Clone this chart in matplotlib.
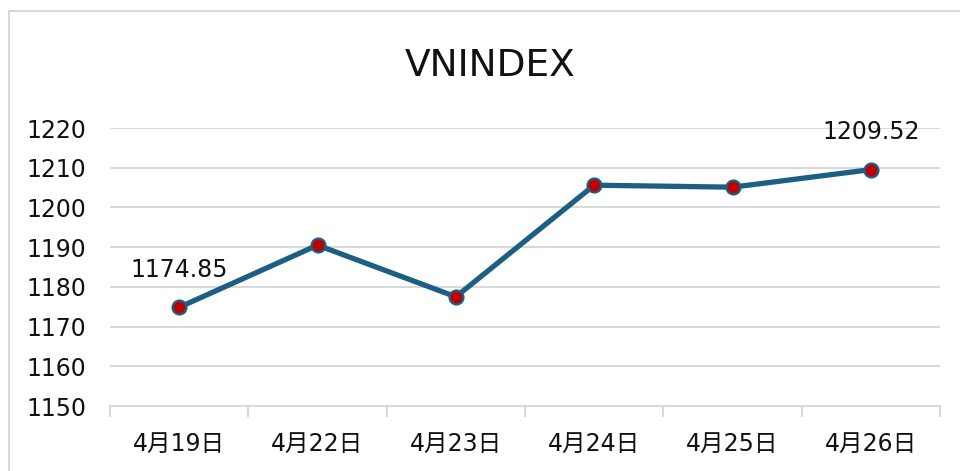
import matplotlib
matplotlib.use("Agg")
import matplotlib.pyplot as plt
from matplotlib.patches import Rectangle

categories = ["4月19日", "4月22日", "4月23日", "4月24日", "4月25日", "4月26日"]
values = [1174.85, 1190.5, 1177.5, 1205.6, 1205.1, 1209.52]
title = "VNINDEX"
yticks = [1150, 1160, 1170, 1180, 1190, 1200, 1210, 1220]

plt.rcParams['font.family'] = ['DejaVu Sans', 'Noto Sans CJK JP']

W, H = 960, 471
fig = plt.figure(figsize=(W/100, H/100), dpi=100)
fig.patches.append(Rectangle((9/W, -0.1), 1.2, 1 - 11/H + 0.1, transform=fig.transFigure,
                             fill=False, edgecolor="#D9D9D9", linewidth=1.5))

ax = fig.add_axes([110/W, 1 - 406/H, 830/W, (406-128)/H])
x = list(range(len(categories)))
line_color = "#1B6083"
ax.plot(x, values, color=line_color, linewidth=3.8, solid_capstyle="round",
        marker="o", markersize=10, markerfacecolor="#C00000",
        markeredgecolor=line_color, markeredgewidth=1.6, zorder=3)

ax.set_xlim(-0.5, len(categories) - 0.5)
ax.set_ylim(1150, 1220)
ax.set_yticks(yticks)
ax.set_yticklabels([str(t) for t in yticks])
ax.set_xticks(x)
ax.set_xticklabels(categories)
ax.set_xticks([i - 0.5 for i in range(len(categories) + 1)], minor=True)

ax.grid(axis="y", color="#D9D9D9", linewidth=1.5)
ax.set_axisbelow(True)
for s in ["top", "right", "left"]:
    ax.spines[s].set_visible(False)
ax.spines["bottom"].set_color("#D9D9D9")
ax.spines["bottom"].set_linewidth(1.5)

ax.tick_params(axis="y", length=0, labelsize=17, pad=17, labelcolor="#111111")
ax.tick_params(axis="x", which="major", length=0, labelsize=17, pad=19, labelcolor="#111111")
ax.tick_params(axis="x", which="minor", length=8, width=1.5, color="#D9D9D9")

for i in [0, len(values) - 1]:
    ax.annotate(f"{values[i]:.2f}", (x[i], values[i]), xytext=(0, 27),
                textcoords="offset points", ha="center", va="center",
                fontsize=17, color="#111111")

fig.text(490/W, 1 - 66/H, title, ha="center", va="center", fontsize=27, color="#111111")

fig.savefig("out.png", dpi=100)
